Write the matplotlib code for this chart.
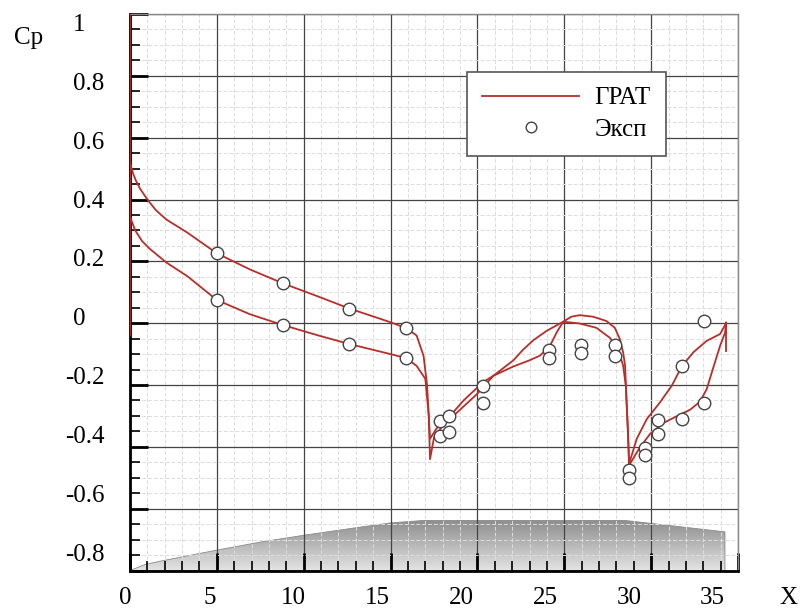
import numpy as np
import matplotlib
matplotlib.use('Agg')
import matplotlib.pyplot as plt
from matplotlib.patches import Polygon
from matplotlib.ticker import MultipleLocator
from matplotlib.colors import LinearSegmentedColormap

plt.rcParams['font.family'] = ['Liberation Serif', 'DejaVu Serif']

# --- data ---
# curve 1 (upper branch at the nose)
grat1_x = [0, 0, 0.17, 0.35, 0.58, 1.0, 1.5, 2.1, 3.3, 5.0, 6.9, 8.8, 10.8, 12.6, 15.0, 15.9, 16.5, 16.9, 17.1, 17.27,
           17.65, 18.42, 19.19, 19.96, 20.92, 22.07, 22.64, 23.22, 23.98, 24.94,
           25.41, 25.89, 26.66, 27.43, 27.91, 28.2, 28.39, 28.5, 28.58, 28.67, 28.73,
           29.17, 29.75, 30.51, 31.19, 31.76, 32.43, 33.2, 33.97, 34.31]
grat1_y = [1.0, 0.52, 0.485, 0.46, 0.435, 0.40, 0.365, 0.335, 0.293, 0.226, 0.174, 0.129, 0.087, 0.048, 0.003, -0.016, -0.04, -0.106, -0.2, -0.374,
           -0.34, -0.31, -0.27, -0.23, -0.17, -0.12, -0.085, -0.055, -0.025, 0.005,
           0.021, 0.026, 0.021, 0.007, -0.015, -0.052, -0.095, -0.138, -0.245, -0.353, -0.455,
           -0.374, -0.31, -0.256, -0.202, -0.14, -0.094, -0.057, -0.035, 0.0]
# curve 2 (lower branch at the nose)
grat2_x = [0, 0, 0, 0.3, 0.7, 1.15, 2.1, 3.3, 5.0, 6.9, 8.8, 10.8, 12.6, 15.0, 15.9, 16.5, 17.0, 17.2, 17.27,
           17.5, 18.42, 19.2, 20.34, 20.92, 22.07, 23.0, 23.6, 24.18, 24.56, 24.94,
           25.89, 26.85, 27.62, 28.1, 28.39, 28.54, 28.62, 28.7, 28.73,
           29.36, 29.94, 30.7, 31.47, 32.24, 32.81, 33.2, 33.58, 33.97, 34.26, 34.31, 34.31]
grat2_y = [-0.04, 0.52, 0.345, 0.30, 0.265, 0.24, 0.196, 0.152, 0.075, 0.029, -0.006, -0.039, -0.067, -0.10, -0.113, -0.138, -0.18, -0.3, -0.44,
           -0.37, -0.30, -0.25, -0.19, -0.17, -0.14, -0.12, -0.105, -0.073, -0.03, 0.005,
           -0.001, -0.015, -0.047, -0.084, -0.138, -0.202, -0.299, -0.406, -0.46,
           -0.401, -0.358, -0.323, -0.301, -0.28, -0.254, -0.213, -0.143, -0.073, -0.03, 0.003, -0.09]

exp_x = [4.99, 4.99, 8.83, 8.83, 12.63, 12.63, 15.89, 15.89,
         17.85, 18.38, 17.85, 18.38, 20.3, 20.3, 24.1, 24.1, 25.98, 25.98, 27.9, 27.9,
         28.75, 28.75, 29.65, 29.65, 30.42, 30.42, 31.76, 31.76, 33.05, 33.05]
exp_y = [0.226, 0.075, 0.129, -0.005, 0.047, -0.067, -0.017, -0.113,
         -0.315, -0.299, -0.366, -0.351, -0.202, -0.258, -0.086, -0.114, -0.069, -0.095, -0.069, -0.105,
         -0.476, -0.50, -0.404, -0.426, -0.312, -0.36, -0.138, -0.31, 0.008, -0.258]

# body contour
body_x = [0, 0.9, 1.9, 5.0, 7.5, 10.0, 13.2, 15.0, 16.9, 28.5, 34.25, 34.25]
body_y = [-0.8, -0.78, -0.768, -0.734, -0.708, -0.686, -0.66, -0.646, -0.638, -0.638, -0.675, -0.8]

x_labels = [0, 5, 10, 15, 20, 25, 30, 35]
y_labels = [1, 0.8, 0.6, 0.4, 0.2, 0, -0.2, -0.4, -0.6, -0.8]

# the printed labels sit on a slightly different scale than the grid
def xlab_pos(v):
    return -0.265 + 0.966 * v

def ylab_pos(v):
    return 0.0129 + 0.9516 * v

fig = plt.figure(figsize=(8, 6.13), dpi=100)
ax = fig.add_axes([0.1625, 0.0693, 0.76, 0.9078])

red = '#b82e2a'

# body with vertical gradient
poly = Polygon(np.column_stack([body_x, body_y]), closed=True, facecolor='none',
               edgecolor='#8a8a8a', lw=0.6, zorder=0.4)
ax.add_patch(poly)
cmap = LinearSegmentedColormap.from_list('body', ['#e4e4e4', '#8e8e8e'])
grad = np.linspace(0, 1, 200).reshape(-1, 1)
img = ax.imshow(grad, extent=[0, max(body_x), -0.8, max(body_y)], origin='lower',
                aspect='auto', cmap=cmap, zorder=0.3)
img.set_clip_path(poly)

ax.plot(grat1_x, grat1_y, color=red, lw=1.3, label='ГРАТ', zorder=3)
ax.plot(grat2_x, grat2_y, color=red, lw=1.3, zorder=3)
ax.plot(exp_x, exp_y, ls='none', marker='o', ms=9, mfc='white', mec='#444444',
        mew=1.0, label='Эксп', zorder=4)

ax.set_xlim(0, 35)
ax.set_ylim(-0.8, 1.0)
ax.xaxis.set_major_locator(MultipleLocator(5))
ax.xaxis.set_minor_locator(MultipleLocator(1))
ax.yaxis.set_major_locator(MultipleLocator(0.2))
ax.yaxis.set_minor_locator(MultipleLocator(0.05))
ax.set_axisbelow(True)
ax.grid(which='major', color='#444444', lw=0.9)
ax.grid(which='minor', color='#dcdcdc', lw=0.7, ls=(0, (4, 2)))
ax.tick_params(which='major', direction='in', length=13, width=2, color='black',
               labelbottom=False, labelleft=False)
ax.tick_params(which='minor', direction='in', length=7, width=1.2, color='black')
for s in ['left', 'bottom']:
    ax.spines[s].set_linewidth(2)
    ax.spines[s].set_color('black')
for s in ['top', 'right']:
    ax.spines[s].set_linewidth(1)
    ax.spines[s].set_color('#888888')

fs = 18
xt = ax.get_xaxis_transform()
for v in x_labels:
    ax.text(xlab_pos(v), -0.049, str(v), transform=xt, ha='center', va='center',
            fontsize=fs, clip_on=False)
yt = ax.get_yaxis_transform()
for v in y_labels:
    txt = f'{v:g}'
    ax.text(-0.107 if v < 0 else -0.094, ylab_pos(v), txt, transform=yt,
            ha='left', va='center', fontsize=fs, clip_on=False)

fig.text(29 / 800, 1 - 38 / 613, 'Cp', fontsize=fs, ha='center', va='center')
fig.text(788 / 800, 1 - 598 / 613, 'X', fontsize=fs, ha='center', va='center')

leg = ax.legend(loc='upper left', bbox_to_anchor=(0.554, 0.896), borderaxespad=0,
                fontsize=18, handlelength=3.9, handletextpad=0.6, labelspacing=0.35,
                borderpad=0.6, fancybox=False, framealpha=1, edgecolor='#555555',
                markerscale=0.85)
leg.get_frame().set_linewidth(1.2)

fig.savefig('out.png', dpi=100)
